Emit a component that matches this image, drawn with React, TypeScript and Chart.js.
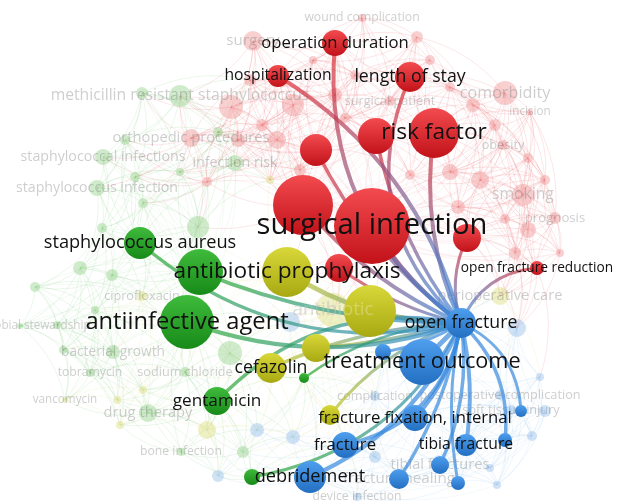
import React, { useEffect, useRef } from "react";
import { Chart, registerables } from "chart.js";
Chart.register(...registerables);

const W = 618;
const H = 504;

// Selected term "open fracture" (index 0) and the terms linked to it
const hlNames = [
  "open fracture", "surgical infection", "wound infection", "risk factor", "postoperative infection",
  "length of stay", "operation duration", "hospitalization", "infection", "surgical site infection",
  "infection rate", "open fracture reduction", "antibiotic prophylaxis", "antibiotic agent", "cefazolin",
  "antibiotic therapy", "fracture fixation", "antiinfective agent", "antibiotic", "staphylococcus aureus",
  "gentamicin", "vancomycin", "clindamycin", "treatment outcome", "time to treatment",
  "fracture fixation, internal", "fracture", "debridement", "tibia fracture", "tibial fractures",
  "wound closure", "fracture healing", "soft tissue", "amputation",
];
const hlX = [461, 372, 303, 434, 376, 410, 335, 278, 316, 467, 339, 537, 287, 370, 271, 316, 330, 187, 200, 140, 217, 304, 252, 422, 383, 415, 345, 310, 466, 440, 458, 399, 505, 521];
const hlY = [323, 226, 205, 133, 136, 77, 43, 76, 150, 238, 268, 268, 272, 311, 368, 348, 415, 322, 272, 243, 401, 378, 477, 362, 352, 418, 445, 477, 445, 465, 483, 479, 440, 411];
const hlSize = [15, 38, 30, 25, 18, 15, 13, 11, 16, 14, 14, 7, 25, 26, 15, 14, 10, 27, 23, 16, 14, 5, 8, 23, 8, 13, 13, 16, 11, 9, 7, 10, 7, 6];
// 1 red, 2 green, 3 blue, 4 yellow
const hlCluster = [3, 1, 1, 1, 1, 1, 1, 1, 1, 1, 1, 1, 4, 4, 4, 4, 4, 2, 2, 2, 2, 2, 2, 3, 3, 3, 3, 3, 3, 3, 3, 3, 3, 3];
// 2 = label shown, 1 = faint label, 0 = no label
const hlLabel = [2, 2, 0, 2, 0, 2, 2, 2, 0, 0, 0, 2, 2, 0, 2, 0, 0, 2, 0, 2, 2, 0, 0, 2, 0, 2, 2, 2, 2, 1, 0, 1, 0, 0];
// link from "open fracture" to each term: strength and bend
const linkWidth = [0, 4.5, 4, 4, 3.5, 3.5, 4, 4, 3.5, 3, 3, 3, 4.5, 4, 3.5, 3.5, 3, 4, 4, 3.5, 3.5, 2.5, 3, 5, 3, 4, 4, 4.5, 4, 3.5, 3, 3.5, 3.5, 3];
const linkBend = [0, 0.1, 0.12, 0.15, 0.12, 0.35, 0.28, -0.2, 0.12, 0.2, 0.1, 0.3, 0.15, 0.05, -0.1, 0.05, -0.15, 0.18, 0.1, 0.25, -0.27, -0.15, 0.25, 0, 0.1, 0.15, 0.33, 0.2, 0.1, 0.15, -0.1, 0.1, 0.25, 0.3];

// Other terms of the map (not linked, shown faded)
const bgNames = [
  "wound complication", "surgery", "", "", "", "", "", "orthopedic procedures", "", "surgical patient",
  "comorbidity", "incision", "", "", "obesity", "", "", "", "smoking", "",
  "", "prognosis", "", "", "", "", "", "", "",
  "methicillin resistant staphylococcus", "", "", "staphylococcal infections", "infection risk", "staphylococcus infection", "", "", "", "",
  "", "", "", "", "", "ciprofloxacin", "", "antimicrobial stewardship", "", "", "bacterial growth",
  "tobramycin", "sodium chloride", "", "drug therapy", "vancomycin", "", "bone infection",
  "", "", "", "", "perioperative care", "antibiotic",
  "", "", "", "", "", "complication", "postoperative complication", "soft tissue injury", "", "",
  "", "", "", "device infection", "",
  "", "", "", "", "", "", "", "",
];
const bgX = [
  362, 253, 417, 313, 355, 231, 293, 191, 277, 390,
  505, 530, 450, 473, 503, 528, 450, 480, 523, 458,
  505, 555, 528, 515, 560, 207, 335, 262, 430,
  180, 142, 125, 103, 235, 97, 218, 135, 143, 180,
  198, 102, 80, 112, 35, 142, 95, 20, 57, 63, 113,
  90, 185, 230, 148, 65, 243, 181,
  117, 120, 143, 207, 500, 333,
  290, 218, 257, 293, 375, 375, 500, 511, 545, 540,
  532, 490, 497, 357, 517,
  250, 345, 300, 238, 495, 545, 410, 270,
];
const bgY = [
  18, 41, 37, 60, 75, 107, 105, 138, 140, 101,
  93, 112, 87, 105, 145, 158, 172, 180, 195, 207,
  219, 218, 230, 253, 253, 182, 95, 125, 60,
  96, 93, 140, 157, 163, 188, 132, 177, 203, 172,
  227, 228, 268, 275, 287, 296, 310, 326, 325, 350, 352,
  373, 372, 353, 413, 400, 452, 452,
  400, 425, 390, 430, 296, 310,
  322, 476, 430, 437, 457, 396, 395, 410, 411, 377,
  436, 468, 485, 497, 328,
  80, 118, 170, 140, 125, 180, 175, 180,
];
const bgSize = [
  4, 10, 6, 4, 5, 12, 11, 9, 9, 5,
  12, 3, 5, 7, 5, 5, 8, 9, 11, 7,
  5, 6, 8, 6, 4, 5, 7, 6, 5,
  11, 6, 5, 8, 8, 8, 5, 5, 5, 4,
  11, 5, 7, 6, 5, 5, 4, 3, 4, 4, 7,
  4, 5, 12, 9, 3, 6, 4,
  4, 4, 4, 9, 9, 17,
  10, 6, 7, 7, 6, 5, 5, 5, 6, 4,
  5, 4, 4, 4, 9,
  6, 5, 6, 7, 6, 5, 5, 4,
];
const bgCluster = [
  1, 1, 1, 1, 1, 1, 1, 1, 1, 1,
  1, 1, 1, 1, 1, 1, 1, 1, 1, 1,
  1, 1, 1, 1, 1, 1, 1, 1, 1,
  2, 2, 2, 2, 2, 2, 2, 2, 2, 2,
  2, 2, 2, 2, 2, 4, 2, 2, 2, 2, 2,
  2, 2, 2, 2, 4, 2, 2,
  4, 4, 4, 4, 4, 4,
  3, 3, 3, 3, 3, 3, 3, 3, 3, 3,
  3, 3, 3, 3, 3,
  1, 1, 1, 1, 1, 1, 1, 4,
];

const TOP: Record<number, string> = { 1: "#f24b4f", 2: "#3fbb3c", 3: "#4f9fee", 4: "#d8d83a" };
const BOT: Record<number, string> = { 1: "#c2121a", 2: "#178a18", 3: "#236fc2", 4: "#a8a812" };
const RGB: Record<number, number[]> = { 1: [226, 40, 46], 2: [44, 168, 44], 3: [56, 138, 222], 4: [196, 196, 28] };
const FAINT: Record<number, string> = {
  1: "rgba(240,150,150,0.45)",
  2: "rgba(150,210,140,0.45)",
  3: "rgba(150,190,235,0.45)",
  4: "rgba(225,225,140,0.5)",
};
const WEB_ALPHA: Record<number, number> = { 1: 0.14, 2: 0.12, 3: 0.1, 4: 0.1 };

const rgba = (c: number, a: number) => `rgba(${RGB[c][0]},${RGB[c][1]},${RGB[c][2]},${a})`;
const fontFor = (r: number) => 10.2 + 0.5 * r;

type NodeRaw = { x: number; y: number; r: number; c: number; name: string; lab: number };

const hlData: NodeRaw[] = hlNames.map((name, i) => ({
  x: hlX[i], y: hlY[i], r: hlSize[i], c: hlCluster[i], name, lab: hlLabel[i],
}));
const bgData: NodeRaw[] = bgNames.map((name, i) => ({
  x: bgX[i], y: bgY[i], r: bgSize[i], c: bgCluster[i], name, lab: name ? 1 : 0,
}));

function curve(ctx: CanvasRenderingContext2D, x1: number, y1: number, x2: number, y2: number, k: number) {
  const mx = (x1 + x2) / 2, my = (y1 + y2) / 2;
  const dx = x2 - x1, dy = y2 - y1;
  ctx.beginPath();
  ctx.moveTo(x1, y1);
  ctx.quadraticCurveTo(mx + k * dy, my - k * dx, x2, y2);
}

const networkPlugin = {
  id: "network",
  beforeDatasetsDraw(chart: any) {
    const ctx: CanvasRenderingContext2D = chart.ctx;
    const xs = chart.scales.x, ys = chart.scales.y;
    const all = [...hlData, ...bgData];
    const px = all.map((n) => xs.getPixelForValue(n.x));
    const py = all.map((n) => ys.getPixelForValue(n.y));
    ctx.save();
    ctx.lineWidth = 0.8;
    for (let i = 0; i < all.length; i++) {
      for (let j = i + 1; j < all.length; j++) {
        if (i === 0 && j < hlData.length) continue;
        const d = Math.hypot(px[i] - px[j], py[i] - py[j]);
        if (d < 110) {
          curve(ctx, px[i], py[i], px[j], py[j], 0.18);
          ctx.strokeStyle = rgba(all[i].c, WEB_ALPHA[all[i].c]);
          ctx.stroke();
        }
      }
    }
    // long faint links from each faded term to the main terms of its cluster
    for (let j = hlData.length; j < all.length; j++) {
      const same = hlData
        .map((n, i) => ({ i, n }))
        .filter((o) => o.n.c === all[j].c && o.i !== 0)
        .sort((a, b) => b.n.r - a.n.r)
        .slice(0, 2);
      for (const o of same) {
        curve(ctx, px[j], py[j], px[o.i], py[o.i], 0.2);
        ctx.strokeStyle = rgba(all[j].c, 0.07);
        ctx.stroke();
      }
    }
    ctx.restore();
  },
  afterDatasetDraw(chart: any, args: any) {
    if (args.index !== 1) return;
    const ctx: CanvasRenderingContext2D = chart.ctx;
    const xs = chart.scales.x, ys = chart.scales.y;
    ctx.save();
    ctx.textAlign = "center";
    ctx.textBaseline = "middle";
    const faintLabels = [...bgData, ...hlData.filter((n) => n.lab === 1)];
    for (const n of faintLabels) {
      if (!n.lab) continue;
      ctx.font = `${fontFor(n.r)}px "Open Sans"`;
      ctx.fillStyle = "rgba(120,120,120,0.36)";
      ctx.fillText(n.name, xs.getPixelForValue(n.x), ys.getPixelForValue(n.y));
    }
    // links of the selected term
    const hx = xs.getPixelForValue(hlData[0].x), hy = ys.getPixelForValue(hlData[0].y);
    ctx.lineCap = "round";
    for (let i = 1; i < hlData.length; i++) {
      const n = hlData[i];
      const tx = xs.getPixelForValue(n.x), ty = ys.getPixelForValue(n.y);
      const g = ctx.createLinearGradient(hx, hy, tx, ty);
      g.addColorStop(0, rgba(3, 0.7));
      g.addColorStop(1, rgba(n.c, 0.7));
      curve(ctx, hx, hy, tx, ty, linkBend[i]);
      ctx.strokeStyle = g;
      ctx.lineWidth = linkWidth[i];
      ctx.stroke();
    }
    ctx.restore();
  },
  afterDatasetsDraw(chart: any) {
    const ctx: CanvasRenderingContext2D = chart.ctx;
    const xs = chart.scales.x, ys = chart.scales.y;
    ctx.save();
    ctx.textAlign = "center";
    ctx.textBaseline = "middle";
    // faint label drawn over the yellow term it sits on
    ctx.font = `${fontFor(17)}px "Open Sans"`;
    ctx.fillStyle = "rgba(255,255,255,0.28)";
    ctx.fillText("antibiotic", xs.getPixelForValue(333), ys.getPixelForValue(310));
    ctx.fillStyle = "#111111";
    for (const n of hlData) {
      if (n.lab !== 2) continue;
      ctx.font = `${fontFor(n.r)}px "Open Sans"`;
      ctx.fillText(n.name, xs.getPixelForValue(n.x), ys.getPixelForValue(n.y));
    }
    ctx.restore();
  },
};

export default function App() {
  const ref = useRef<HTMLCanvasElement>(null);
  useEffect(() => {
    document.body.style.margin = "0";
    const canvas = ref.current!;
    const chart = new Chart(canvas, {
      type: "bubble",
      data: {
        datasets: [
          {
            label: "linked",
            data: hlData as any,
            borderWidth: 0,
            clip: false as any,
            backgroundColor: (c: any) => {
              if (c.type !== "data") return "#888";
              const raw = c.raw as NodeRaw;
              const ch = c.chart;
              const xs = ch.scales && ch.scales.x, ys = ch.scales && ch.scales.y;
              if (!xs || !ys) return TOP[raw.c];
              const x = xs.getPixelForValue(raw.x), y = ys.getPixelForValue(raw.y);
              if (!isFinite(x) || !isFinite(y)) return TOP[raw.c];
              const g = ch.ctx.createLinearGradient(x, y - raw.r, x, y + raw.r);
              g.addColorStop(0, TOP[raw.c]);
              g.addColorStop(1, BOT[raw.c]);
              return g;
            },
          },
          {
            label: "other",
            data: bgData as any,
            borderWidth: 0,
            clip: false as any,
            backgroundColor: (c: any) => (c.type === "data" ? FAINT[(c.raw as NodeRaw).c] : "#ccc"),
          },
        ],
      },
      options: {
        responsive: false,
        animation: false,
        devicePixelRatio: 1,
        events: [],
        layout: { padding: 0, autoPadding: false },
        scales: {
          x: { type: "linear", min: 0, max: W, display: false },
          y: { type: "linear", min: 0, max: H, reverse: true, display: false },
        },
        plugins: { legend: { display: false }, tooltip: { enabled: false } },
      },
      plugins: [networkPlugin],
    });
    return () => chart.destroy();
  }, []);
  return (
    <div style={{ width: W, height: H, background: "#fff" }}>
      <canvas ref={ref} width={W} height={H} style={{ display: "block" }} />
    </div>
  );
}
